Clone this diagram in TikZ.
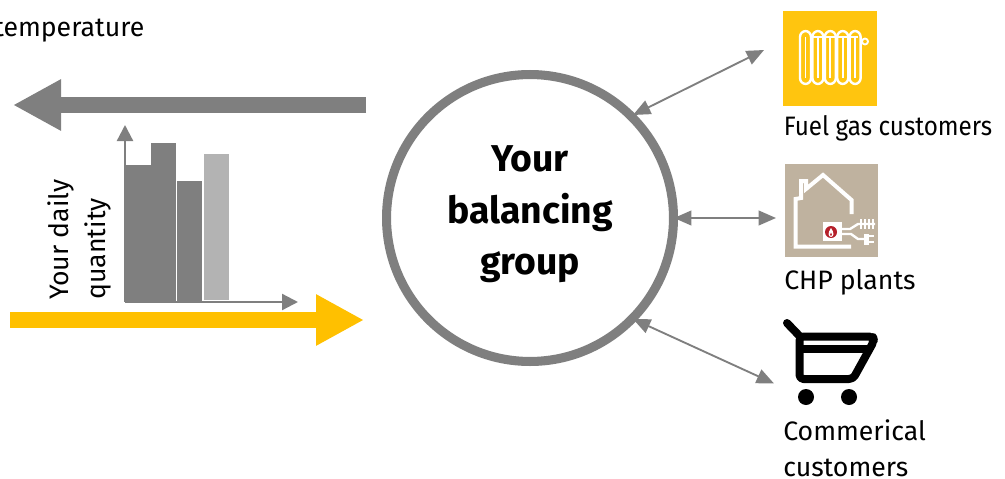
\documentclass[tikz,border=0pt]{standalone}
\usepackage{fontspec}
\setmainfont{Fira Sans}
\usetikzlibrary{arrows.meta}
\definecolor{ggray}{HTML}{7F7F7F}
\definecolor{lgray}{HTML}{B3B3B3}
\definecolor{yarrow}{HTML}{FFC000}
\definecolor{ybox}{HTML}{FFC50F}
\definecolor{tan}{HTML}{BFB29F}
\definecolor{flame}{HTML}{B5202A}
\tikzset{
  bigarrow/.style={line width=12pt,-{Triangle[length=36pt,width=36pt]}},
  axisline/.style={draw=ggray,line width=1.7pt,-{Triangle[length=12pt,width=12pt]}},
  linkarrow/.style={draw=ggray,line width=1.4pt,{Triangle[length=13pt,width=11pt]}-{Triangle[length=13pt,width=11pt]}},
  lab/.style={font=\fontsize{20}{20}\selectfont,text=black,inner sep=0pt,anchor=base west},
  ylab/.style={font=\fontsize{20}{20}\selectfont,text=black,inner sep=0pt,rotate=90,anchor=base west},
  icon/.style={draw=white,line width=1.5pt,line join=round,line cap=round},
  cartline/.style={draw=black,line width=6pt,line join=round,line cap=round},
}
\begin{document}
\begin{tikzpicture}[x=0.75pt,y=-0.75pt]
\useasboundingbox (0,0) rectangle (1005,478);
\clip (0,0) rectangle (1005,478);
% top text cropped by the frame
\node[lab] (templabel) at (-6,37) {temperature};
\node[lab] (nlabel) at (-14,68) {n};
% large arrows
\coordinate (gtail) at (366,105);
\coordinate (ghead) at (13,105);
\coordinate (ytail) at (10,320);
\coordinate (yhead) at (364,320);
\draw[bigarrow,draw=ggray,color=ggray] (gtail) -- (ghead);
% bars
\fill[ggray] (125,165) rectangle (151,302);
\fill[ggray] (151,143) rectangle (176,302);
\fill[ggray] (177,181) rectangle (202,302);
\fill[lgray] (204,154) rectangle (229,300);
% axes
\coordinate (origin) at (125,302);
\coordinate (ytip) at (125,125);
\coordinate (xtip) at (298,302);
\draw[axisline,ggray] (origin) -- (ytip);
\draw[axisline,ggray] (origin) -- (xtip);
\draw[bigarrow,draw=yarrow,color=yarrow] (ytail) -- (yhead);
% rotated labels
\node[ylab] (daily) at (68,300) {Your daily};
\node[ylab] (qty) at (105,300) {quantity};
% centre circle
\node[circle,draw=ggray,line width=6.8pt,minimum size=215.2pt,inner sep=0pt] (bal) at (530,218) {};
\node[align=center,inner sep=0pt,font=\fontsize{28}{38.6}\selectfont\bfseries] (baltext) at (530,214.5) {Your\\balancing\\group};
% icon boxes
\node[fill=ybox,minimum width=70.5pt,minimum height=71pt,inner sep=0pt] (radbox) at (830,58.5) {};
\node[fill=tan,minimum width=70pt,minimum height=70pt,inner sep=0pt] (chpbox) at (831.5,210.5) {};
% radiator
\foreach \i in {0,1,2,3,4}{
  \draw[icon,line width=1.8pt,rounded corners=4.4pt,fill=ybox] ({800+12.4*\i},31) rectangle ({811+12.4*\i},84);
  \draw[draw=white,line width=1.4pt] ({805.5+12.4*\i},37) -- ({805.5+12.4*\i},78);
}
\draw[draw=white,line width=1.2pt] (810,37) -- (858,37);
\draw[draw=white,line width=1.2pt] (860,41) -- (862,41);
\draw[icon,line width=1.4pt] (865,41.5) circle (3);
% house
\draw[icon,line width=3pt,line cap=butt,line join=miter]
  (851.5,214) -- (851.5,200) -- (823,175) -- (806,189) -- (806,181) -- (801,181) -- (801,198) -- (795.5,199) -- (795.5,246.5) -- (851,246.5);
\fill[white] (823,222) rectangle (842,241);
\fill[flame] (831,232) circle (6);
\fill[white] (831,237) .. controls (828,236.5) and (827.5,233) .. (831,228) .. controls (834.5,233) and (834,236.5) .. (831,237) -- cycle;
\fill[flame] (831,236) .. controls (830,235.5) and (829.5,234.5) .. (831,232.5) .. controls (832.5,234.5) and (832,235.5) .. (831,236) -- cycle;
\draw[icon,line width=1.8pt,line cap=butt] (842,229) -- (850,229) -- (858,224) -- (875,224);
\draw[icon,line width=1.8pt,line cap=butt] (842,234) -- (851,234) -- (858,239) -- (866,239);
\foreach \x in {861,865,869,873}{\draw[icon,line width=1.3pt,line cap=butt] (\x,219) -- (\x,229);}
\fill[white] (864,233.5) rectangle (869,244.5);
\draw[icon,line width=1.3pt,line cap=butt] (869,236) -- (874,236);
\draw[icon,line width=1.3pt,line cap=butt] (869,242) -- (874,242);
% cart
\draw[cartline] (787,323) -- (799.5,336);
\draw[cartline,rounded corners=3pt] (799.5,336.5) -- (799.5,379) -- (853,379) -- (874,341) -- (873,336.5) -- cycle;
\draw[cartline,line cap=butt] (799.5,349) -- (868,349);
\fill[black] (806,397) circle (8);
\fill[black] (849,397) circle (8);
% links
\coordinate (l1a) at (633,115);
\coordinate (l1b) at (764,50);
\coordinate (l2a) at (674,218);
\coordinate (l2b) at (776,218);
\coordinate (l3a) at (633,319);
\coordinate (l3b) at (774,383.5);
\draw[linkarrow,ggray] (l1a) -- (l1b);
\draw[linkarrow,ggray] (l2a) -- (l2b);
\draw[linkarrow,ggray] (l3a) -- (l3b);
% labels
\node[lab,xscale=0.91] (fuel) at (783.5,135) {Fuel gas customers};
\node[lab] (chp) at (784,289) {CHP plants};
\node[lab] (com1) at (783,440) {Commerical};
\node[lab] (com2) at (783,476.5) {customers};
\end{tikzpicture}
\end{document}
